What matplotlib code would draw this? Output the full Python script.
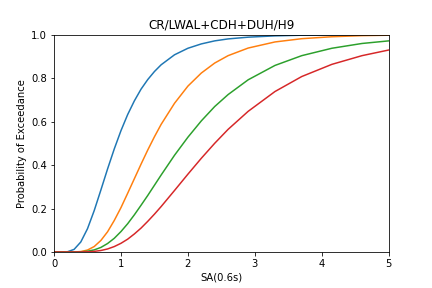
import matplotlib
matplotlib.use("Agg")
import matplotlib.pyplot as plt

# SA(0.6s) values where the curves were read
sa = [0.0, 0.2, 0.3, 0.4, 0.5, 0.6, 0.7, 0.8, 0.9, 1.0, 1.1, 1.2, 1.3, 1.4,
      1.5, 1.6, 1.8, 2.0, 2.2, 2.4, 2.6, 2.9, 3.3, 3.7, 4.15, 4.6, 5.0]

# probability of exceedance, one list per damage state
p_ds1 = [0.0, 0.001, 0.012, 0.046, 0.107, 0.19, 0.285, 0.382, 0.474, 0.558,
         0.632, 0.695, 0.749, 0.793, 0.830, 0.861, 0.907, 0.937, 0.957, 0.971,
         0.980, 0.988, 0.994, 0.997, 0.9986, 0.9993, 0.9996]
p_ds2 = [0.0, 0.0, 0.0002, 0.002, 0.009, 0.025, 0.053, 0.093, 0.145, 0.204,
         0.270, 0.337, 0.404, 0.469, 0.530, 0.587, 0.684, 0.763, 0.823, 0.869,
         0.903, 0.938, 0.966, 0.981, 0.990, 0.995, 0.997]
p_ds3 = [0.0, 0.0, 0.0001, 0.0008, 0.0035, 0.0097, 0.021, 0.039, 0.063, 0.094,
         0.130, 0.171, 0.215, 0.260, 0.307, 0.354, 0.445, 0.528, 0.603, 0.669,
         0.724, 0.792, 0.858, 0.903, 0.937, 0.959, 0.971]
p_ds4 = [0.0, 0.0, 0.0, 0.0002, 0.0009, 0.0028, 0.0069, 0.014, 0.025, 0.040,
         0.059, 0.083, 0.110, 0.141, 0.174, 0.209, 0.283, 0.358, 0.431, 0.500,
         0.564, 0.647, 0.738, 0.807, 0.863, 0.903, 0.929]

fig, ax = plt.subplots(figsize=(6, 4), dpi=72)
fig.subplots_adjust(left=0.125, right=0.9, top=0.88, bottom=0.125)

for p in [p_ds1, p_ds2, p_ds3, p_ds4]:
    ax.plot(sa, p)

ax.set_xlim(0, 5)
ax.set_ylim(0, 1)
ax.set_title("CR/LWAL+CDH+DUH/H9")
ax.set_xlabel("SA(0.6s)")
ax.set_ylabel("Probability of Exceedance")

fig.savefig("out.png", dpi=72)
